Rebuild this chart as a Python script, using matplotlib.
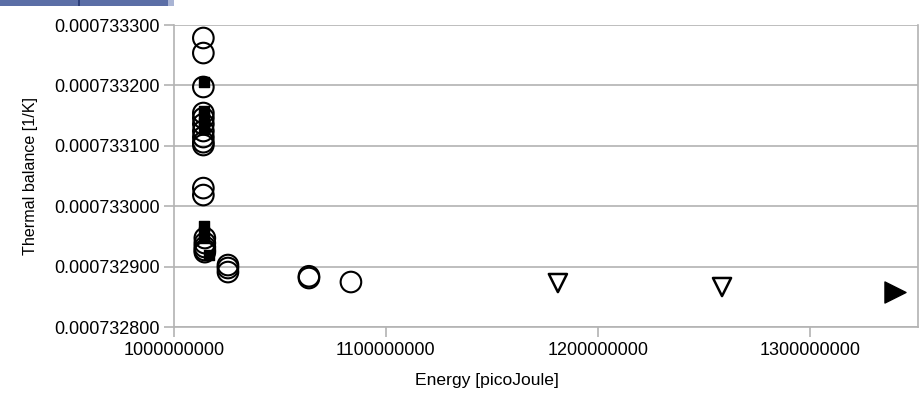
import matplotlib
matplotlib.use("Agg")
from matplotlib import pyplot as plt
from matplotlib.patches import Rectangle

plt.rcParams['font.family'] = ['Liberation Sans', 'DejaVu Sans']

# open circles
circ_x = [1.0139e9] * 12 + [1.0146e9] * 5 + [1.0255e9] * 3 + [1.0637e9] * 2 + [1.0835e9]
circ_y = [0.00073327850, 0.00073325360, 0.00073319740, 0.00073315430,
          0.00073314600, 0.00073313600, 0.00073312450, 0.00073311450,
          0.00073310600, 0.00073310130, 0.00073303000, 0.00073301850,
          0.00073294730, 0.00073293900, 0.00073293250, 0.00073292750,
          0.00073292400, 0.00073290260, 0.00073289770, 0.00073289100,
          0.00073288400, 0.00073288110, 0.00073287450]

# filled squares
sq_x = [1.0140e9] * 5 + [1.0141e9] * 3 + [1.0165e9]
sq_y = [0.00073320500, 0.00073315800, 0.00073314800, 0.00073313800,
        0.00073312800, 0.00073296800, 0.00073295800, 0.00073294800,
        0.00073292000]

# open down triangles
tri_x = [1.1811e9, 1.2585e9]
tri_y = [0.00073287280, 0.00073286620]

# filled right triangle
rt_x = [1.3401e9]
rt_y = [0.00073285790]

x_ticks = [1000000000, 1100000000, 1200000000, 1300000000]
y_ticks = [0.0007328, 0.0007329, 0.0007330, 0.0007331, 0.0007332, 0.0007333]

fig = plt.figure(figsize=(9.2, 3.94), dpi=100)
ax = fig.add_axes([0.189, 0.170, 0.809, 0.7665])

ax.scatter(sq_x, sq_y, marker='s', s=50, color='black', zorder=3)
ax.scatter(circ_x, circ_y, marker='o', s=220, facecolors='none',
           edgecolors='black', linewidths=1.5, zorder=4)
ax.scatter(tri_x, tri_y, marker='v', s=170, facecolors='none',
           edgecolors='black', linewidths=1.8, zorder=4)
ax.scatter(rt_x, rt_y, marker='>', s=230, color='black', zorder=4)

ax.set_xlim(1.0e9, 1.351e9)
ax.set_ylim(0.0007328, 0.0007333)
ax.set_xticks(x_ticks, ['%d' % v for v in x_ticks])
ax.set_yticks(y_ticks, ['%.9f' % v for v in y_ticks])

ax.grid(axis='y', color='#b3b3b3', linewidth=1.2)
ax.set_axisbelow(True)
for side in ['left', 'bottom', 'right']:
    ax.spines[side].set_color('#b3b3b3')
    ax.spines[side].set_linewidth(1.2)
ax.spines['top'].set_visible(False)
ax.tick_params(direction='out', length=7, width=1.2, color='#b3b3b3',
               labelsize=13, labelcolor='black', pad=3)
ax.tick_params(axis='x', pad=4)

ax.set_xlabel('Energy [picoJoule]', fontsize=12.6)
ax.set_ylabel('Thermal balance [1/K]', fontsize=11.6)
ax.xaxis.set_label_coords(0.421, -0.152)
ax.yaxis.set_label_coords(-0.182, 0.5)

# header strip in the upper left corner
fig.patches.append(Rectangle((0, 394 - 6), 168, 6, transform=None,
                             facecolor='#5b6ea6', edgecolor='none'))
fig.patches.append(Rectangle((168, 394 - 6), 6, 6, transform=None,
                             facecolor='#a9b4d4', edgecolor='none'))
fig.patches.append(Rectangle((78, 394 - 6), 2, 6, transform=None,
                             facecolor='#2d3f7a', edgecolor='none'))

fig.savefig('out.png', dpi=100)
